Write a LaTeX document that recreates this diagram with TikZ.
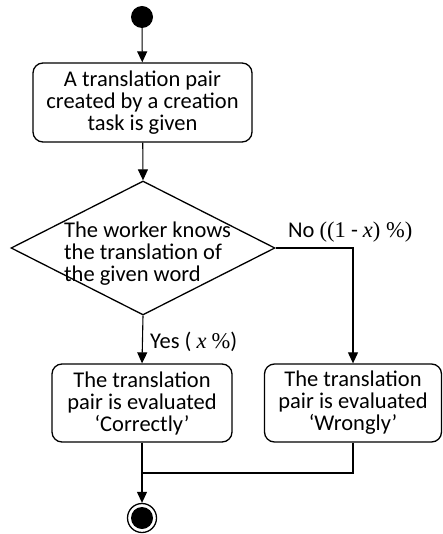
\documentclass[tikz,border=0pt]{standalone}
\usepackage{fontspec}
\setmainfont{Carlito}
\newfontfamily\mathserif{Liberation Serif}
\usetikzlibrary{arrows.meta,shapes.geometric}
\begin{document}
\begin{tikzpicture}[x=1pt,y=-1pt,
  every node/.style={font=\fontsize{22.5}{22}\selectfont},
  flow/.style={line width=1.1pt},
  arrowline/.style={flow,-{Triangle[length=11pt,width=10pt]}},
  activity/.style={draw,line width=1.3pt,rounded corners=10pt,align=center,inner sep=0pt},
  initial/.style={circle,fill=black,inner sep=0pt,minimum size=22pt}]
\useasboundingbox (0,0) rectangle (442,534);

% start and end states
\node[initial] (start) at (142,17) {};
\node[circle,draw,line width=1.3pt,minimum size=29pt,inner sep=0pt] (final) at (142,518) {};
\fill (final.center) circle (11pt);

% activities
\node[activity,minimum width=219pt,minimum height=79pt] (given) at (142.5,102.5)
  {A translation pair\\created by a creation\\task is given};
\node[activity,minimum width=180pt,minimum height=78pt] (correct) at (142,403)
  {The translation\\pair is evaluated\\‘Correctly’};
\node[activity,minimum width=177pt,minimum height=78pt] (wrong) at (353,403)
  {The translation\\pair is evaluated\\‘Wrongly’};

% decision
\node[diamond,draw,line width=1.3pt,minimum width=264pt,minimum height=134pt,
  aspect=1.97,inner sep=0pt] (knows) at (143,248) {};
\node[align=left,anchor=north west,inner sep=0pt] (question) at (64,222)
  {The worker knows\\the translation of\\the given word};

% flows
\draw[arrowline] (start) -- (given);
\draw[arrowline] (given) -- (knows.north);
\draw[arrowline] (knows.south) -- (correct.north);
\node[anchor=base west,inner sep=0pt] (yes) at (150,348)
  {Yes ( {\mathserif\itshape x} {\mathserif\%})};
\draw[arrowline] (knows.east) -| (wrong.north);
\node[anchor=base west,inner sep=0pt] (no) at (288,237)
  {No {\mathserif((1} - {\mathserif\itshape x\upshape) \%)}};
\coordinate (merge) at (142,473);
\draw[flow] (wrong.south) |- (merge);
\draw[arrowline] (correct.south) -- (final.north);
\end{tikzpicture}
\end{document}
